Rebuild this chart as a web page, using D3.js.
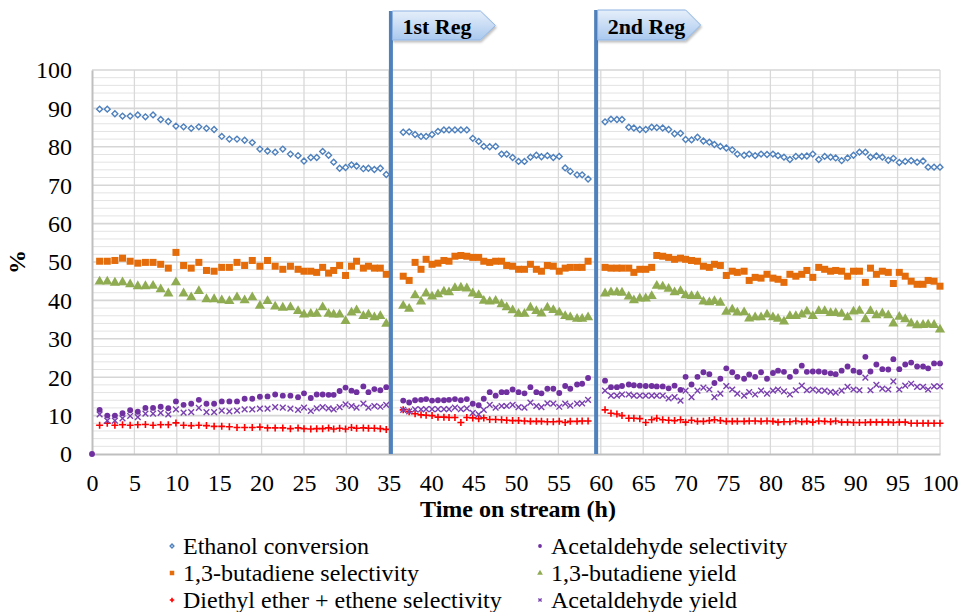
<!DOCTYPE html>
<html><head><meta charset="utf-8">
<script src="https://cdn.jsdelivr.net/npm/d3@7"></script>
<style>
html,body{margin:0;padding:0;background:#fff;}
svg{display:block;font-family:"Liberation Serif","Times New Roman",serif;}
svg text{font-family:"Liberation Serif","Times New Roman",serif;}
</style></head>
<body>
<svg id="chart" width="961" height="612"></svg>
<script>
// ---------- DATA ----------
const hours = [0,
 0.9,1.8,2.7,3.6,4.5,5.4,6.3,7.2,8.1,9.0,9.9,10.8,11.7,12.6,13.5,14.4,15.3,16.2,17.1,18.0,18.9,19.8,20.7,21.6,22.5,23.4,24.3,25.0,25.8,26.5,27.2,27.9,28.5,29.2,29.9,30.6,31.2,32.0,32.6,33.3,34.0,34.7,
 36.7,37.4,38.1,38.8,39.4,40.1,40.8,41.5,42.1,42.8,43.5,44.2,44.9,45.6,46.2,46.9,47.6,48.3,48.9,49.6,50.3,51.0,51.7,52.4,53.0,53.7,54.4,55.1,55.8,56.4,57.2,57.8,58.5,
 60.5,61.2,61.9,62.5,63.3,63.9,64.6,65.3,66.0,66.6,67.3,68.0,68.7,69.4,70.0,70.7,71.4,72.1,72.8,73.4,74.1,74.8,75.5,76.1,76.9,77.5,78.2,78.9,79.6,80.3,80.9,81.6,82.3,83.0,83.7,84.3,85.0,85.7,86.4,87.1,87.7,88.4,89.1,89.8,90.5,91.2,91.8,92.5,93.2,93.9,94.5,95.2,95.9,96.6,97.3,98.0,98.6,99.3,100.0];

const ethanolConversion = [null,
 89.8,89.8,88.6,88.0,88.0,88.3,87.8,88.3,87.1,86.6,85.4,85.2,84.8,85.2,84.8,84.5,82.7,82.0,82.0,81.7,81.1,79.4,78.9,78.6,79.4,78.1,77.7,76.3,77.2,77.2,78.8,77.8,76.0,74.4,74.6,75.3,75.0,74.3,74.4,74.1,74.4,72.8,
 83.8,83.9,83.2,82.7,82.7,83.2,84.0,84.4,84.4,84.4,84.4,84.4,82.2,81.4,80.1,80.0,80.1,78.1,78.1,77.2,76.2,76.2,77.3,77.8,77.4,77.7,77.2,77.5,74.5,73.6,72.7,72.7,71.6,
 86.5,87.2,87.1,87.1,85.1,84.9,84.5,84.5,85.1,85.0,84.9,84.5,83.4,83.5,81.9,81.8,82.5,81.5,81.2,80.6,80.1,79.7,79.2,78.1,77.8,78.1,77.7,78.1,78.0,78.1,77.7,77.3,76.7,77.5,77.5,77.6,78.1,76.7,77.5,77.3,77.1,76.4,77.1,77.8,78.6,78.6,77.3,77.6,77.3,76.5,77.0,75.9,76.2,76.4,76.0,76.3,74.7,74.7,74.7];

const acetaldehydeSelectivity = [0,
 11.5,10.0,10.0,10.6,11.4,11.0,12.0,12.0,12.3,11.9,13.7,12.8,13.1,14.1,13.1,13.1,13.7,13.7,13.7,14.4,14.4,14.9,15.0,15.5,15.2,15.2,14.8,15.8,14.6,15.5,15.5,15.4,15.4,16.4,17.3,16.5,16.1,17.6,16.1,16.9,16.6,17.4,
 13.9,13.4,14.0,14.1,14.3,13.9,14.0,14.0,14.1,14.3,14.0,14.3,13.1,12.7,14.4,16.1,15.2,16.1,16.1,16.8,16.1,15.8,17.4,16.1,15.8,17.0,17.0,15.9,17.7,17.0,18.1,18.3,19.8,
 19.1,17.4,17.4,17.7,18.1,17.9,17.8,17.7,17.7,17.6,17.6,17.1,17.8,16.7,20.1,18.1,20.1,21.3,20.8,18.5,19.6,22.3,21.3,20.1,19.6,20.7,20.1,21.3,19.6,21.1,21.7,21.4,20.1,21.5,23.0,21.4,21.5,21.5,21.3,21.0,20.8,21.7,22.8,21.7,21.3,25.3,21.5,23.3,22.1,22.0,24.7,22.1,23.3,23.8,22.8,22.8,22.3,23.6,23.6];

const butadieneSelectivity = [null,
 50.2,50.2,50.4,51.0,50.2,49.7,49.9,49.9,49.4,48.4,52.5,49.1,48.4,49.9,47.8,47.6,48.6,48.6,49.9,49.1,50.4,48.9,50.4,48.9,48.1,48.9,48.1,47.6,47.6,47.3,48.6,47.1,47.8,49.1,46.5,48.9,50.2,48.4,48.9,48.4,48.4,46.8,
 46.3,45.2,49.9,48.1,50.7,49.4,49.7,50.4,50.2,51.5,51.7,51.5,51.2,51.2,50.2,49.9,50.2,50.2,49.1,48.9,48.1,48.1,49.4,48.1,47.6,49.1,48.9,47.6,48.4,48.6,48.6,48.6,50.2,
 48.6,48.4,48.4,48.4,48.4,47.3,48.1,48.1,48.6,51.7,51.5,51.2,50.7,51.0,50.7,50.4,50.2,48.9,48.6,49.4,49.1,46.5,47.6,47.3,47.6,45.2,46.0,45.8,46.8,45.8,45.5,44.7,46.8,46.3,46.8,47.8,46.0,48.6,48.1,47.6,47.8,47.6,46.3,47.6,47.6,44.7,48.4,46.8,47.6,47.3,44.4,47.3,46.3,45.0,44.2,44.2,45.2,45.0,43.7];

const butadieneYield = [null,
 44.9,44.9,44.6,44.7,44.2,43.7,43.7,43.8,42.9,41.8,44.7,41.8,40.8,42.4,40.3,40.3,40.0,39.8,40.8,40.0,40.8,38.6,39.8,38.4,38.1,38.2,37.2,36.3,36.5,36.5,38.2,36.5,36.3,36.3,34.6,36.8,37.4,35.9,36.3,35.6,35.9,33.9,
 38.6,37.8,41.3,39.7,41.8,41.0,41.6,42.3,42.1,43.2,43.3,43.1,41.8,41.4,39.9,39.7,39.9,39.0,38.2,37.4,36.5,36.5,38.1,37.2,36.6,38.1,37.5,36.8,35.9,35.6,35.2,35.2,35.6,
 41.8,42.1,42.1,42.0,41.0,40.0,40.5,40.5,41.1,43.8,43.6,43.0,42.1,42.4,41.3,41.1,41.1,39.7,39.5,39.8,39.4,37.0,37.6,36.8,36.9,35.3,35.6,35.6,36.3,35.6,35.2,34.5,35.9,35.9,36.3,37.1,35.9,37.2,37.2,36.7,36.7,36.5,35.6,37.1,37.3,35.1,37.2,36.1,36.6,36.1,34.0,35.7,35.1,34.0,33.5,33.6,33.7,33.6,32.4];

const deeEtheneSelectivity = [null,
 7.5,8.0,7.5,7.6,7.5,7.6,7.7,7.5,7.6,7.6,8.1,7.5,7.4,7.5,7.4,7.2,7.2,7.1,6.9,6.9,6.9,7.0,6.8,6.8,6.8,6.6,6.8,6.6,6.5,6.6,6.6,6.8,6.5,6.7,6.5,6.9,6.7,6.8,6.7,6.7,6.6,6.4,
 11.5,11.0,10.5,10.2,10.1,10.0,9.6,9.6,9.5,9.5,8.2,9.5,9.4,9.2,9.4,9.0,9.0,8.9,8.8,8.7,8.7,8.6,8.5,8.5,8.5,8.4,8.4,8.5,8.2,8.5,8.5,8.6,8.6,
 11.5,10.6,10.4,10.0,9.3,9.3,9.2,8.2,8.9,9.3,8.9,8.8,8.7,8.9,8.3,8.8,8.5,8.5,8.7,8.9,8.7,8.5,8.5,8.5,8.5,8.6,8.6,8.5,8.6,8.5,8.3,8.4,8.4,8.6,8.4,8.5,8.3,8.6,8.5,8.4,8.6,8.3,8.3,8.2,8.2,8.2,8.3,8.3,8.3,8.3,8.2,8.3,8.3,8.0,8.0,8.0,8.0,8.0,8.0];

const acetaldehydeYield = [null,
 10.3,8.7,8.7,9.3,9.9,9.6,10.5,10.5,10.7,10.3,11.6,10.8,10.9,12.0,10.9,10.9,11.3,11.1,11.3,11.6,11.6,11.8,11.8,12.2,12.1,11.8,11.5,12.1,11.2,11.9,12.2,11.9,11.6,12.2,12.9,12.5,12.1,13.1,12.1,12.5,12.3,12.8,
 11.5,11.1,11.6,11.6,11.7,11.7,11.7,11.7,11.7,12.1,11.7,11.9,10.7,10.3,11.5,12.8,12.1,12.5,12.5,12.8,12.2,12.1,13.4,12.5,12.2,13.2,13.1,12.3,13.1,12.6,13.1,13.2,14.1,
 16.5,15.2,15.2,15.5,15.5,15.2,15.2,15.2,15.2,15.2,15.2,14.5,14.8,13.9,16.5,14.8,16.5,17.3,16.8,14.8,15.7,17.7,16.8,15.7,15.2,16.1,15.5,16.5,15.7,16.5,16.8,16.3,15.5,16.6,17.8,16.6,16.8,16.5,16.5,16.2,16.0,16.5,17.5,16.8,16.6,19.9,16.6,18.0,17.0,16.8,18.9,16.8,17.8,18.3,17.5,17.5,16.8,17.6,17.6];

const seriesNames = ["Ethanol conversion","Acetaldehyde selectivity","1,3-butadiene selectivity","1,3-butadiene yield","Diethyl ether + ethene selectivity","Acetaldehyde yield"];
const seriesColors = ["#4f81bd","#7030a0","#e46c0a","#8fac52","#ff0000","#7a40b0"];
const seriesMarkers = ["diamond","circle","square","triangle","plus","cross"];
const seriesValues = [ethanolConversion,acetaldehydeSelectivity,butadieneSelectivity,butadieneYield,deeEtheneSelectivity,acetaldehydeYield];

const yTicks = [0,10,20,30,40,50,60,70,80,90,100];
const xTicks = d3.range(0,101,5);
const regenerations = [{label:"1st Reg", hour:35.25},{label:"2nd Reg", hour:59.45}];

// ---------- CHART ----------
const FONT = "'Liberation Serif','Times New Roman',serif";
const svg = d3.select("#chart");
const x = d3.scaleLinear().domain([0,100]).range([92,940]);
const y = d3.scaleLinear().domain([0,100]).range([454,70]);

// gridlines
const g = svg.append("g");
g.selectAll(".minor").data(d3.range(2,100,2).filter(v=>v%10!==0)).join("line")
  .attr("x1",x(0)).attr("x2",x(100)).attr("y1",d=>y(d)).attr("y2",d=>y(d))
  .attr("stroke","#e3e3e3").attr("stroke-width",1);
g.selectAll(".vgrid").data(xTicks.filter(v=>v>0)).join("line")
  .attr("x1",d=>x(d)).attr("x2",d=>x(d)).attr("y1",y(0)).attr("y2",y(100))
  .attr("stroke","#d9d9d9").attr("stroke-width",1.3);
g.selectAll(".major").data(yTicks.filter(v=>v>0)).join("line")
  .attr("x1",x(0)).attr("x2",x(100)).attr("y1",d=>y(d)).attr("y2",d=>y(d))
  .attr("stroke","#d6d6d6").attr("stroke-width",1.6);

// axes
const xAxis = d3.axisBottom(x).tickValues(xTicks).tickSize(0).tickPadding(20);
const yAxis = d3.axisLeft(y).tickValues(yTicks).tickSize(0).tickPadding(20);
const ax = svg.append("g").attr("transform",`translate(0,${y(0)})`).call(xAxis);
const ay = svg.append("g").attr("transform",`translate(${x(0)},0)`).call(yAxis);
[ax,ay].forEach(a=>{
  a.attr("font-family",FONT).attr("font-size",24);
  a.select(".domain").attr("stroke","#bfbfbf").attr("stroke-width",2);
  a.selectAll("text").attr("font-family",FONT).attr("font-size",24).attr("fill","#000");
});
ay.selectAll("text").attr("dy","0.33em");

// axis titles
svg.append("text").attr("x",x(50)+2).attr("y",517).attr("text-anchor","middle")
  .attr("font-family",FONT).attr("font-size",24).attr("font-weight","bold").text("Time on stream (h)");
svg.append("text").attr("transform","translate(25,262) rotate(-90)").attr("text-anchor","middle")
  .attr("font-family",FONT).attr("font-size",24).attr("font-weight","bold").text("%");

// markers
function drawMarker(sel, type, color, s){
  if(type==="diamond"){
    sel.append("path").attr("d",d3.symbol(d3.symbolDiamond2, s*s*0.45)).attr("fill","#fff")
      .attr("stroke",color).attr("stroke-width",1.4);
  } else if(type==="circle"){
    sel.append("circle").attr("r",s*0.42).attr("fill",color);
  } else if(type==="square"){
    sel.append("rect").attr("x",-s/2).attr("y",-s/2).attr("width",s).attr("height",s).attr("fill",color);
  } else if(type==="triangle"){
    sel.append("path").attr("d",d3.symbol(d3.symbolTriangle, s*s*0.7)).attr("fill",color);
  } else if(type==="plus"){
    const h=s/2;
    sel.append("path").attr("d",`M${-h},0H${h}M0,${-h}V${h}`).attr("stroke",color).attr("stroke-width",1.6);
  } else if(type==="cross"){
    const h=s/2.8;
    sel.append("path").attr("d",`M${-h},${-h}L${h},${h}M${-h},${h}L${h},${-h}`).attr("stroke",color).attr("stroke-width",1.4);
  }
}
const markerSize = [7,7,7,8,7,8];
seriesValues.forEach((vals,si)=>{
  const pts = hours.map((h,i)=>({h, v:vals[i]})).filter(d=>d.v!==null);
  const grp = svg.append("g");
  grp.selectAll("g").data(pts).join("g")
    .attr("transform",d=>`translate(${x(d.h)},${y(d.v)})`)
    .each(function(){ drawMarker(d3.select(this), seriesMarkers[si], seriesColors[si], markerSize[si]); });
});

// regeneration lines + callouts
const defs = svg.append("defs");
const grad = defs.append("linearGradient").attr("id","calloutGrad").attr("x1",0).attr("y1",0).attr("x2",0).attr("y2",1);
grad.append("stop").attr("offset","0%").attr("stop-color","#e6effa");
grad.append("stop").attr("offset","100%").attr("stop-color","#a9c8ee");
const flt = defs.append("filter").attr("id","shadow").attr("x","-10%").attr("y","-10%").attr("width","130%").attr("height","150%");
flt.append("feDropShadow").attr("dx",1).attr("dy",2).attr("stdDeviation",1.2).attr("flood-color","#000").attr("flood-opacity",0.25);

regenerations.forEach((r,i)=>{
  const px = x(r.hour);
  const top = i===0 ? 11 : 10;
  svg.append("line").attr("x1",px).attr("x2",px).attr("y1",top).attr("y2",y(0))
    .attr("stroke","#4f81bd").attr("stroke-width",4);
  const l = px+1.5, rr = l+88, tip = rr+15, b = 40;
  svg.append("path").attr("d",`M${l},${top}H${rr}L${tip},${(top+b)/2}L${rr},${b}H${l}Z`)
    .attr("fill","url(#calloutGrad)").attr("stroke","#8eb4e3").attr("stroke-width",1)
    .attr("filter","url(#shadow)");
  svg.append("text").attr("x",l+10).attr("y",34).attr("font-family",FONT).attr("font-size",22).attr("font-weight","bold")
    .attr("fill","#000").text(r.label);
});

// legend
const legendPos = [[172,546],[540,546],[172,573],[540,573],[172,600],[540,600]];
seriesNames.forEach((n,i)=>{
  const [lx,ly] = legendPos[i];
  const lg = svg.append("g").attr("transform",`translate(${lx},${ly})`);
  drawMarker(lg, seriesMarkers[i], seriesColors[i], 4.5);
  svg.append("text").attr("x",lx+11).attr("y",ly+8).attr("font-family",FONT).attr("font-size",24).attr("fill","#000").text(n);
});
</script>
</body></html>
